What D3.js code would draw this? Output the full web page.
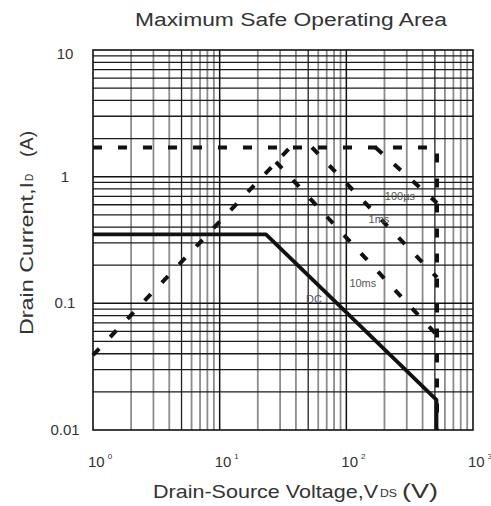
<!DOCTYPE html>
<html>
<head>
<meta charset="utf-8">
<script src="https://cdn.jsdelivr.net/npm/d3@7"></script>
<style>
  html, body { margin: 0; padding: 0; background: #fff; }
  text { font-family: "Liberation Sans", Arial, sans-serif; }
</style>
</head>
<body>
<svg id="chart" width="491" height="506"></svg>
<script>
// ---------- data ----------
const title = "Maximum Safe Operating Area";
const xTickValues = [1, 10, 100, 1000];
const xTickExponents = ["0", "1", "2", "3"];
const yTickValues = [0.01, 0.1, 1, 10];
const yTickLabels = ["0.01", "0.1", "1", "10"];

// dashed limit envelope (current limit + voltage limit)
const limitEnvelope = [[1, 1.7], [520, 1.7], [520, 0.01]];
// dashed RDS(on) limit line
const rdsLimit = [[1, 0.039], [36, 1.7]];
// pulse lines
const pulse100us = [[170, 1.7], [520, 0.62]];
const pulse1ms = [[53.5, 1.7], [520, 0.16]];
const pulse10ms = [[27.8, 1.31], [520, 0.056]];
// DC line
const dcLine = [[1, 0.35], [23.2, 0.35], [515, 0.0173], [515, 0.01]];

const curveLabels = ["100µs", "1ms", "10ms", "DC"];
const curveLabelAnchors = [[265, 0.70], [181, 0.464], [135, 0.145], [55.5, 0.108]];

// ---------- layout ----------
const svg = d3.select("#chart");
const L = 93, R = 473, T = 50, B = 430;
const x = d3.scaleLog().domain([1, 1000]).range([L, R]);
const y = d3.scaleLog().domain([0.01, 10]).range([B, T]);

// ---------- grid ----------
const grid = svg.append("g");
const minor = [];
[1, 10, 100].forEach(d => { for (let k = 2; k <= 9; k++) minor.push({ v: k * d, k }); });
const yMinor = [];
[0.01, 0.1, 1].forEach(d => { for (let k = 2; k <= 9; k++) yMinor.push({ v: k * d, k }); });

grid.selectAll("line.vx").data(minor).join("line")
  .attr("x1", d => x(d.v)).attr("x2", d => x(d.v))
  .attr("y1", T).attr("y2", B)
  .attr("stroke", d => (d.k === 5 ? "#222" : "#8c8c8c"))
  .attr("stroke-width", d => (d.k === 5 ? 1.3 : 1.8));
grid.selectAll("line.vy").data(yMinor).join("line")
  .attr("x1", L).attr("x2", R)
  .attr("y1", d => y(d.v)).attr("y2", d => y(d.v))
  .attr("stroke", "#1a1a1a").attr("stroke-width", 1.3);
grid.selectAll("line.mx").data([10, 100]).join("line")
  .attr("x1", d => x(d)).attr("x2", d => x(d))
  .attr("y1", T).attr("y2", B)
  .attr("stroke", "#111").attr("stroke-width", 1.5);
grid.selectAll("line.my").data([0.1, 1]).join("line")
  .attr("x1", L).attr("x2", R)
  .attr("y1", d => y(d)).attr("y2", d => y(d))
  .attr("stroke", "#111").attr("stroke-width", 1.5);
svg.append("rect").attr("x", L).attr("y", T).attr("width", R - L).attr("height", B - T)
  .attr("fill", "none").attr("stroke", "#111").attr("stroke-width", 1.6);

// ---------- curves ----------
const line = d3.line().x(d => x(d[0])).y(d => y(d[1]));
const dashed = [limitEnvelope, rdsLimit, pulse100us, pulse1ms, pulse10ms];
svg.append("g").selectAll("path").data(dashed).join("path")
  .attr("d", line).attr("fill", "none")
  .attr("stroke", "#111").attr("stroke-width", 4)
  .attr("stroke-dasharray", "9,16");
svg.append("path").datum(dcLine).attr("d", line).attr("fill", "none")
  .attr("stroke", "#111").attr("stroke-width", 3.8).attr("stroke-linejoin", "round");

// ---------- curve labels ----------
svg.append("g").selectAll("text").data(curveLabels).join("text")
  .attr("x", (d, i) => x(curveLabelAnchors[i][0]))
  .attr("y", (d, i) => y(curveLabelAnchors[i][1]))
  .attr("text-anchor", "middle").attr("dominant-baseline", "central")
  .attr("font-size", 11)
  .attr("fill", (d, i) => (i === 3 ? "#4b5268" : "#5a5550"))
  .text(d => d);

// ---------- tick labels ----------
const xt = svg.append("g").selectAll("text").data(xTickValues).join("text")
  .attr("x", d => x(d) - 5).attr("y", 467)
  .attr("font-size", 15).attr("fill", "#333");
xt.append("tspan").text("10");
xt.append("tspan").attr("dx", 3).attr("dy", -8).attr("font-size", 8).text((d, i) => xTickExponents[i]);

svg.append("g").selectAll("text").data(yTickValues).join("text")
  .attr("x", 65).attr("y", d => y(d) + (d === 10 ? 9 : 5))
  .attr("text-anchor", "middle").attr("font-size", 15).attr("fill", "#333")
  .text((d, i) => yTickLabels[i]);

// ---------- titles ----------
svg.append("text").attr("x", 135).attr("y", 26)
  .attr("font-size", 18).attr("fill", "#333")
  .attr("textLength", 312).attr("lengthAdjust", "spacingAndGlyphs")
  .text(title);

// x axis label
svg.append("text").attr("x", 153).attr("y", 498).attr("font-size", 19).attr("fill", "#333")
  .attr("textLength", 225).attr("lengthAdjust", "spacingAndGlyphs").text("Drain-Source Voltage,V");
svg.append("text").attr("x", 380).attr("y", 497).attr("font-size", 11).attr("fill", "#333")
  .attr("textLength", 17).attr("lengthAdjust", "spacingAndGlyphs").text("DS");
svg.append("text").attr("x", 402).attr("y", 498).attr("font-size", 20).attr("fill", "#333")
  .attr("textLength", 36).attr("lengthAdjust", "spacingAndGlyphs").text("(V)");

// y axis label (rotated)
const yl = svg.append("g").attr("transform", "translate(33,335) rotate(-90)");
yl.append("text").attr("x", 0).attr("y", 0).attr("font-size", 18).attr("fill", "#333")
  .attr("textLength", 153).attr("lengthAdjust", "spacingAndGlyphs").text("Drain Current,I");
yl.append("text").attr("x", 154).attr("y", 0).attr("font-size", 10).attr("fill", "#333")
  .text("D");
yl.append("text").attr("x", 178).attr("y", 0).attr("font-size", 19).attr("fill", "#333")
  .attr("textLength", 26).attr("lengthAdjust", "spacing").text("(A)");
</script>
</body>
</html>
